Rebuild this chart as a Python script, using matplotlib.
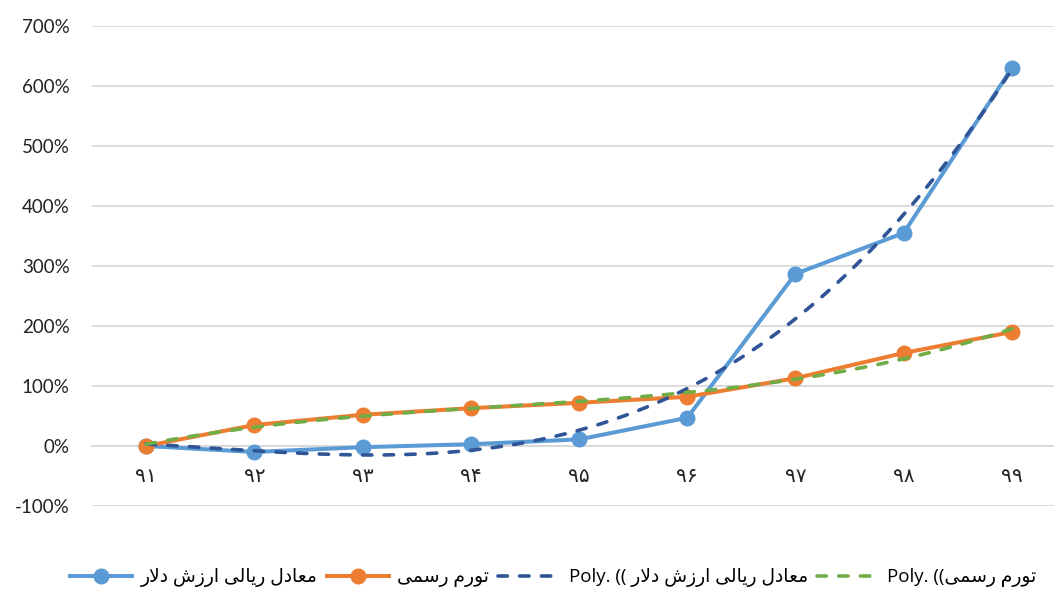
import numpy as np
import matplotlib
matplotlib.use("Agg")
import matplotlib.pyplot as plt
from matplotlib.lines import Line2D

# ---------------- data ----------------
years = ["۹۱", "۹۲", "۹۳", "۹۴", "۹۵", "۹۶", "۹۷", "۹۸", "۹۹"]
dollar = [0, -10, -2, 3, 11, 47, 287, 355, 630]      # %
inflation = [0, 35, 52, 63, 72, 82, 113, 155, 190]   # %
name_dollar = "معادل ریالی ارزش دلار"
name_infl = "تورم رسمی"
yticks = [-100, 0, 100, 200, 300, 400, 500, 600, 700]
poly_order = 3

# -------------- simple Persian shaping --------------
FORMS = {  # isolated, final, initial, medial
    'ا': ('\uFE8D', '\uFE8E', None, None),
    'د': ('\uFEA9', '\uFEAA', None, None),
    'ر': ('\uFEAD', '\uFEAE', None, None),
    'ز': ('\uFEAF', '\uFEB0', None, None),
    'و': ('\uFEED', '\uFEEE', None, None),
    'ل': ('\uFEDD', '\uFEDE', '\uFEDF', '\uFEE0'),
    'م': ('\uFEE1', '\uFEE2', '\uFEE3', '\uFEE4'),
    'ع': ('\uFEC9', '\uFECA', '\uFECB', '\uFECC'),
    'ش': ('\uFEB5', '\uFEB6', '\uFEB7', '\uFEB8'),
    'ت': ('\uFE95', '\uFE96', '\uFE97', '\uFE98'),
    'س': ('\uFEB1', '\uFEB2', '\uFEB3', '\uFEB4'),
    'ی': ('\uFBFC', '\uFBFD', '\uFBFE', '\uFBFF'),
}


def dual(c):
    return c in FORMS and FORMS[c][2] is not None


def shape(text):
    out = []
    chars = list(text)
    i = 0
    n = len(chars)
    while i < n:
        c = chars[i]
        if c not in FORMS:
            out.append(c)
            i += 1
            continue
        prev = chars[i - 1] if i > 0 else None
        jp = prev is not None and dual(prev)
        if c == 'ل' and i + 1 < n and chars[i + 1] == 'ا':
            out.append('\uFEFC' if jp else '\uFEFB')
            i += 2
            continue
        nxt = chars[i + 1] if i + 1 < n else None
        jn = dual(c) and nxt is not None and nxt in FORMS
        iso, fin, ini, med = FORMS[c]
        if jp and jn:
            out.append(med)
        elif jp:
            out.append(fin)
        elif jn:
            out.append(ini)
        else:
            out.append(iso)
        i += 1
    return ''.join(out)


def rtl(text):
    return shape(text)[::-1]


# ---------------- figure ----------------
W, H = 1054, 590
fig = plt.figure(figsize=(W / 100, H / 100), dpi=100)
ax = fig.add_axes([92 / W, 1 - 506 / H, 974 / W, 480 / H])

x = np.arange(len(years))
c_blue = "#5B9BD5"
c_orange = "#ED7D31"
c_dblue = "#2F5597"
c_green = "#70AD47"

lw = 2.9
ms = 10.5
ax.plot(x, dollar, color=c_blue, lw=lw, marker='o', ms=ms, zorder=3,
        solid_capstyle='round', solid_joinstyle='round')
ax.plot(x, inflation, color=c_orange, lw=lw, marker='o', ms=ms, zorder=3,
        solid_capstyle='round', solid_joinstyle='round')

xs = np.linspace(0, len(years) - 1, 300)
pd_ = np.polyfit(x, dollar, poly_order)
pi_ = np.polyfit(x, inflation, poly_order)
dash = (2.6, 3.4)
ax.plot(xs, np.polyval(pd_, xs), color=c_dblue, lw=2.6, dashes=dash,
        dash_capstyle='round', zorder=4)
ax.plot(xs, np.polyval(pi_, xs), color=c_green, lw=2.6, dashes=dash,
        dash_capstyle='round', zorder=4)

ax.set_xlim(-0.5, len(years) - 0.5)
ax.set_ylim(-100, 700)
ax.set_yticks(yticks)
ax.set_yticklabels([f"{v}%" for v in yticks], fontfamily="Lato", fontsize=13.5,
                   color="#222222")
ax.set_xticks(x)
ax.set_xticklabels(years)
ax.grid(axis='y', color="#D9D9D9", lw=1.3, zorder=0)
ax.set_axisbelow(True)
for s in ['top', 'right', 'left']:
    ax.spines[s].set_visible(False)
ax.spines['bottom'].set_position(('data', 0))
ax.spines['bottom'].set_color("#D9D9D9")
ax.spines['bottom'].set_linewidth(1.3)
ax.tick_params(axis='y', length=0, pad=16)
ax.tick_params(axis='x', length=0, pad=15, labelsize=14.5, labelcolor="#222222")
for lbl in ax.get_xticklabels():
    lbl.set_fontfamily("DejaVu Sans")
    lbl.set_fontsize(14.5)
ax.set_facecolor('none')

handles = [
    Line2D([], [], color=c_blue, lw=lw, marker='o', ms=ms),
    Line2D([], [], color=c_orange, lw=lw, marker='o', ms=ms),
    Line2D([], [], color=c_dblue, lw=2.6, dashes=dash, dash_capstyle='round'),
    Line2D([], [], color=c_green, lw=2.6, dashes=dash, dash_capstyle='round'),
]
labels = [
    rtl(name_dollar),
    rtl(name_infl),
    "Poly. (( " + rtl(name_dollar),
    "Poly. ((" + rtl(name_infl),
]
leg = fig.legend(handles, labels, loc='center', bbox_to_anchor=(0.525, 0.021),
                 ncol=4, frameon=False, handlelength=3.3, columnspacing=0.5,
                 handletextpad=0.45,
                 prop={'family': ['Open Sans', 'DejaVu Sans'], 'size': 13.5})

fig.savefig("out.png", dpi=100)
